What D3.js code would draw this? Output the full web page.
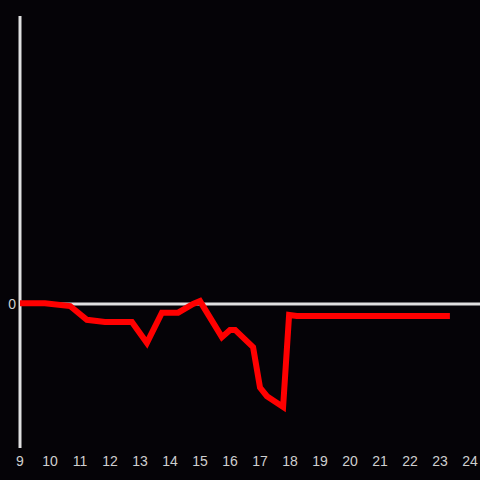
<!DOCTYPE html>
<html>
<head>
<meta charset="utf-8">
<script src="https://cdn.jsdelivr.net/npm/d3@7"></script>
<style>
  html, body { margin: 0; padding: 0; background: #050307; }
  svg { display: block; }
</style>
</head>
<body>
<svg id="chart"></svg>
<script>
var hours = [9.0, 9.83, 10.67, 11.23, 11.83, 12.73, 13.23, 13.73, 14.27, 14.77, 15.0,
             15.73, 16.0, 16.17, 16.77, 17.0, 17.23, 17.77, 17.97, 18.23, 23.33];
var values = [0.5, 0.5, -1.4, -11, -12.5, -12.5, -27, -6, -6, 0, 2,
              -23, -18, -18, -30, -58, -64, -71.5, -7.6, -8.3, -8.3];
var xTicks = d3.range(9, 25);
var yTicks = [0];

var width = 480, height = 480;
var svg = d3.select("#chart").attr("width", width).attr("height", height);

svg.append("rect").attr("width", width).attr("height", height).attr("fill", "#050307");

var x = d3.scaleLinear().domain([9, 24]).range([20, 470]);
var y = d3.scaleLinear().domain([-100, 200]).range([448, 16]);

var data = hours.map(function(h, i){ return {h: h, v: values[i]}; });

// zero line
svg.append("line")
    .attr("x1", x(9)).attr("x2", width)
    .attr("y1", y(0)).attr("y2", y(0))
    .attr("stroke", "#e0e0e0").attr("stroke-width", 3);

// y axis line
svg.append("line")
    .attr("x1", x(9)).attr("x2", x(9))
    .attr("y1", y(200)).attr("y2", y(-100))
    .attr("stroke", "#e0e0e0").attr("stroke-width", 3);

// x tick labels
svg.selectAll(".xlab")
    .data(xTicks)
    .enter().append("text")
    .attr("class", "xlab")
    .attr("x", function(d){ return x(d); })
    .attr("y", 466)
    .attr("text-anchor", "middle")
    .style("font-family", "Liberation Sans, Arial, sans-serif")
    .style("font-size", "14px")
    .attr("fill", "#cfcfcf")
    .text(function(d){ return d; });

// y tick labels
svg.selectAll(".ylab")
    .data(yTicks)
    .enter().append("text")
    .attr("class", "ylab")
    .attr("x", 16)
    .attr("y", function(d){ return y(d) + 5; })
    .attr("text-anchor", "end")
    .style("font-family", "Liberation Sans, Arial, sans-serif")
    .style("font-size", "14px")
    .attr("fill", "#cfcfcf")
    .text(function(d){ return d; });

var line = d3.line()
    .x(function(d){ return x(d.h); })
    .y(function(d){ return y(d.v); });

svg.append("path")
    .datum(data)
    .attr("d", line)
    .attr("fill", "none")
    .attr("stroke", "#ff0000")
    .attr("stroke-width", 6)
    .attr("stroke-linejoin", "miter");
</script>
</body>
</html>
